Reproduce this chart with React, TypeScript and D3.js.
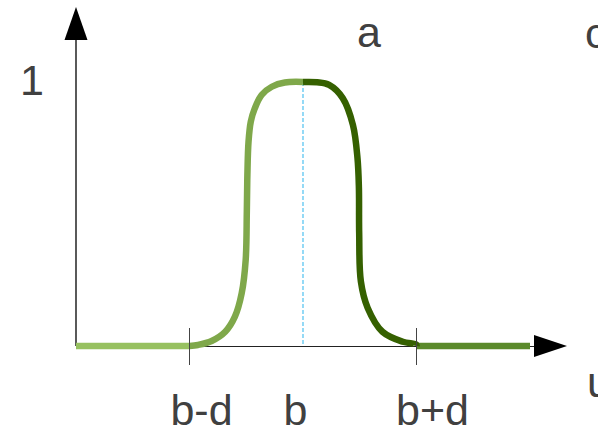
import React from "react";
import * as d3 from "d3";

// ---- data ----
const tickValues = [3, 5, 7]; // b-d, b, b+d
const tickLabels = ["b-d", "b", "b+d"];
const yLabel = "1";
const paramLabels = ["a", "c"];
const axisLabel = "u";

// left half of the bell (u, membership)
const leftU = [3, 3.15, 3.39, 3.63, 3.8, 3.92, 3.99, 4.01, 4.02, 4.04, 4.08, 4.15, 4.27, 4.45, 4.68, 5.0];
const leftF = [0, 0.004, 0.019, 0.054, 0.111, 0.2, 0.326, 0.509, 0.648, 0.774, 0.85, 0.9, 0.951, 0.982, 0.998, 1];
// right half of the bell
const rightU = [5.0, 5.25, 5.46, 5.7, 5.88, 5.96, 5.985, 5.99, 6.02, 6.14, 6.4, 6.76, 6.995, 7.0];
const rightF = [1, 0.999, 0.989, 0.939, 0.837, 0.712, 0.6, 0.428, 0.244, 0.144, 0.054, 0.016, 0.006, 0];
// flat parts
const leftFlatU = [1, 3];
const rightFlatU = [7, 9];
const flatF = [0, 0];

const W = 598;
const H = 429;

export default function App() {
  const x = d3.scaleLinear().domain([1, 9]).range([76, 530]);
  const y = d3.scaleLinear().domain([0, 1]).range([346, 82]);

  const line = d3
    .line<[number, number]>()
    .x((d) => x(d[0]))
    .y((d) => y(d[1]))
    .curve(d3.curveCatmullRom.alpha(0.5));
  const straight = d3
    .line<[number, number]>()
    .x((d) => x(d[0]))
    .y((d) => y(d[1]));

  const leftPts = leftU.map((u, i) => [u, leftF[i]] as [number, number]);
  const rightPts = rightU.map((u, i) => [u, rightF[i]] as [number, number]);
  const lFlat = leftFlatU.map((u, i) => [u, flatF[i]] as [number, number]);
  const rFlat = rightFlatU.map((u, i) => [u, flatF[i]] as [number, number]);

  const ox = x(1);
  const oy = y(0);
  const yTip = 7;
  const yBase = 40;
  const xBase = 534;
  const xTip = 567;
  const font = "'Liberation Sans', Arial, sans-serif";
  const textColor = "#404040";
  const fs = 43;
  const labelDx = [12, -7.5, 16];

  return (
    <svg
      width={W}
      height={H}
      style={{ position: "absolute", left: 0, top: 0, background: "#fff" }}
    >
      {/* axes */}
      <line x1={ox} y1={oy} x2={ox} y2={yBase} stroke="#000" strokeWidth={1.3} />
      <path d={`M${ox},${yTip} L${ox - 11.5},${yBase} L${ox + 11.5},${yBase} Z`} fill="#000" />
      <line x1={ox} y1={oy + 0.5} x2={xBase} y2={oy + 0.5} stroke="#222" strokeWidth={1.2} />
      <path d={`M${xTip},${oy} L${xBase},${oy - 11} L${xBase},${oy + 11} Z`} fill="#000" />

      {/* dashed line at b */}
      <line
        x1={x(tickValues[1])}
        y1={y(1)}
        x2={x(tickValues[1])}
        y2={oy}
        stroke="#5cc6f2"
        strokeWidth={1.3}
        strokeDasharray="4,2"
      />

      {/* curve */}
      <path d={straight(lFlat) || ""} fill="none" stroke="#97c160" strokeWidth={6.5} />
      <path d={straight(rFlat) || ""} fill="none" stroke="#5b8a2b" strokeWidth={6.5} />
      <path d={line(leftPts) || ""} fill="none" stroke="#7fa84a" strokeWidth={6.5} />
      <path d={line(rightPts) || ""} fill="none" stroke="#356000" strokeWidth={6.5} />

      {/* ticks at b-d and b+d */}
      {[tickValues[0], tickValues[2]].map((t) => (
        <line key={t} x1={x(t)} y1={oy - 18} x2={x(t)} y2={oy + 19} stroke="#444" strokeWidth={1} />
      ))}

      {/* text */}
      <g fontFamily={font} fontSize={fs} fill={textColor}>
        {tickLabels.map((t, i) => (
          <text key={t} x={x(tickValues[i]) + labelDx[i]} y={425} textAnchor="middle">
            {t}
          </text>
        ))}
        <text x={32} y={y(1) + 13} textAnchor="middle">{yLabel}</text>
        <text x={369} y={47} textAnchor="middle">{paramLabels[0]}</text>
        <text x={585} y={48}>{paramLabels[1]}</text>
        <text x={587} y={397}>{axisLabel}</text>
      </g>
    </svg>
  );
}
